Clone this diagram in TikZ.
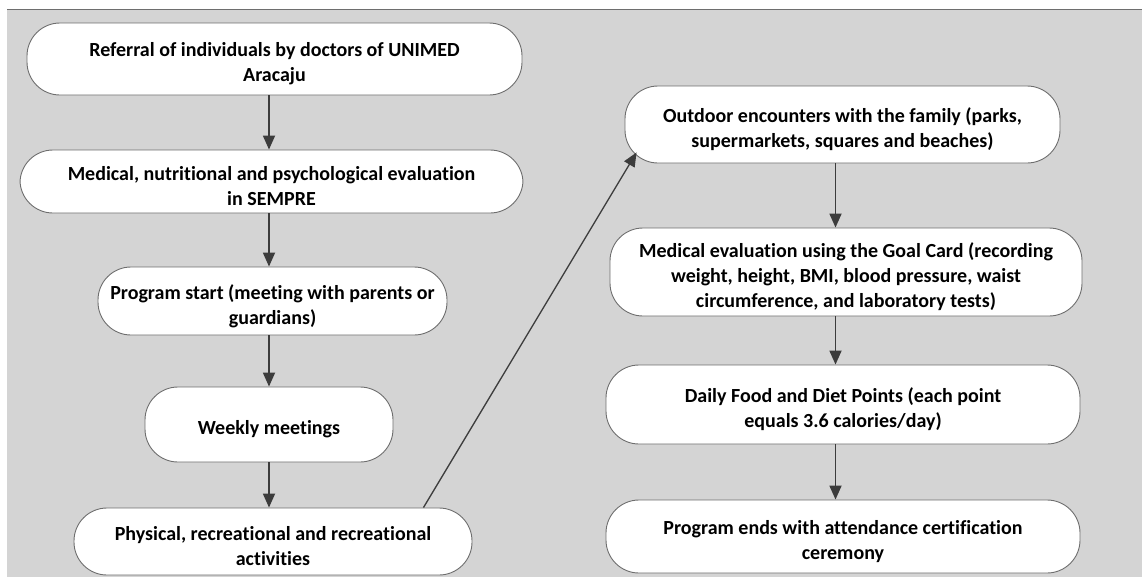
\documentclass[tikz,border=0pt]{standalone}
\usepackage{fontspec}
\setmainfont[Ligatures=NoCommon]{Carlito}
\usetikzlibrary{arrows.meta,calc}
\definecolor{bg}{HTML}{D4D4D4}
\definecolor{edge}{HTML}{6E6E6E}
\definecolor{arr}{HTML}{3C3C3C}
\tikzset{
  flowbox/.style={draw=edge, line width=0.9pt, fill=white, rounded corners=33pt, inner sep=0pt},
  flowtext/.style={align=center, inner sep=0pt, font=\fontsize{20}{25}\selectfont\bfseries},
  flowarrow/.style={draw=arr, line width=1.8pt, -{Triangle[length=14pt,width=12pt]}}
}
\newcommand{\mybox}[6]{%
  \node[flowbox, minimum width=#4pt, minimum height=#5pt] (#1) at (#2,#3) {};
  \node[flowtext] (#1-t) at ([yshift=-5pt]#1.center) {#6};}
\begin{document}
\begin{tikzpicture}[x=1pt,y=-1pt]
\useasboundingbox (0,0) rectangle (1142,579);
\fill[bg] (7,9) rectangle (1142,577);
\draw[edge, line width=1pt] (7,9) -- (1142,9);
% left column
\mybox{b1}{274.5}{59}{495}{72}{Referral of individuals by doctors of UNIMED\\Aracaju}
\mybox{b2}{271.5}{181.5}{503}{63}{Medical, nutritional and psychological evaluation\\in SEMPRE}
\mybox{b3}{272.5}{301}{349}{68}{Program start (meeting with parents or\\guardians)}
\mybox{b4}{269}{424.5}{248}{75}{Weekly meetings}
\mybox{b5}{273}{541.5}{398}{67}{Physical, recreational and recreational\\activities}
% right column
\mybox{r1}{842.5}{124.5}{435}{77}{Outdoor encounters with the family (parks,\\supermarkets, squares and beaches)}
\mybox{r2}{846}{272}{472}{88}{Medical evaluation using the Goal Card (recording\\weight, height, BMI, blood pressure, waist\\circumference, and laboratory tests)}
\mybox{r3}{843}{404.5}{474}{79}{Daily Food and Diet Points (each point\\equals 3.6 calories/day)}
\mybox{r4}{843}{536.5}{474}{73}{Program ends with attendance certification\\ceremony}
% arrows
\draw[flowarrow] (b1.south -| b4.center) -- (b2.north -| b4.center);
\draw[flowarrow] (b2.south -| b4.center) -- (b3.north -| b4.center);
\draw[flowarrow] (b3.south -| b4.center) -- (b4.north);
\draw[flowarrow] (b4.south) -- (b5.north -| b4.center);
\draw[flowarrow] ([xshift=-7pt]r1.south) -- ([xshift=-7pt]r1.south |- r2.north);
\draw[flowarrow] ([xshift=-7pt]r1.south |- r2.south) -- ([xshift=-7pt]r1.south |- r3.north);
\draw[flowarrow] ([xshift=-7pt]r1.south |- r3.south) -- ([xshift=-7pt]r1.south |- r4.north);
\draw[flowarrow, line width=1.3pt] ([xshift=-49pt]b5.north east) -- ([xshift=12pt,yshift=11pt]r1.south west);
\end{tikzpicture}
\end{document}
